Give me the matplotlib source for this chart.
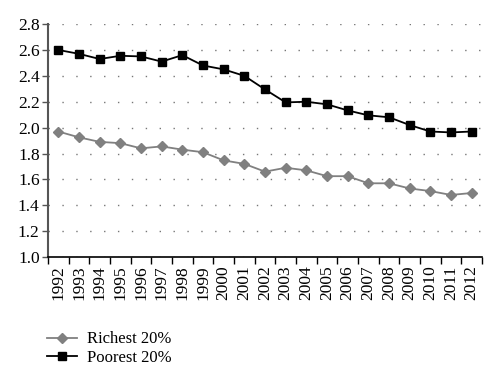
import matplotlib
matplotlib.use("Agg")
import matplotlib.pyplot as plt
import numpy as np

years = [str(y) for y in range(1992, 2013)]
richest = [1.97, 1.925, 1.89, 1.88, 1.84, 1.855, 1.83, 1.81, 1.747, 1.72, 1.66,
           1.69, 1.67, 1.625, 1.625, 1.57, 1.57, 1.53, 1.51, 1.48, 1.495]
poorest = [2.60, 2.57, 2.53, 2.555, 2.55, 2.51, 2.56, 2.48, 2.45, 2.40, 2.295,
           2.195, 2.20, 2.18, 2.133, 2.095, 2.08, 2.02, 1.97, 1.963, 1.97]
yticks = [1.0, 1.2, 1.4, 1.6, 1.8, 2.0, 2.2, 2.4, 2.6, 2.8]

plt.rcParams['font.family'] = ['Liberation Serif', 'DejaVu Serif']

fig = plt.figure(figsize=(5, 3.82), dpi=100)
ax = fig.add_axes([0.096, 0.327, 0.868, 0.61])

x = np.arange(len(years))
ax.plot(x, richest, color='#808080', marker='D', markersize=5, lw=1.3,
        label='Richest 20%')
ax.plot(x, poorest, color='black', marker='s', markersize=6, lw=1.3,
        label='Poorest 20%')

ax.set_xlim(-0.5, len(years) - 0.5)
ax.set_ylim(1.0, 2.8)
ax.set_yticks(yticks)
ax.set_yticklabels([f'{v:.1f}' for v in yticks], fontsize=12.5)
ax.set_xticks(x)
ax.set_xticklabels(years, rotation=90, fontsize=12.5)
ax.set_xticks(np.arange(-0.5, len(years)), minor=True)
ax.tick_params(axis='x', which='major', length=0, pad=6)
ax.tick_params(axis='x', which='minor', length=5, direction='out', width=1)
ax.tick_params(axis='y', length=4, direction='out', width=1, color='#555555', pad=2)

ax.yaxis.grid(True, linestyle=(0, (1, 9)), color='#777777', lw=1)
ax.set_axisbelow(True)
for s in ['top', 'right']:
    ax.spines[s].set_visible(False)
ax.spines['left'].set_color('#555555')
ax.spines['left'].set_linewidth(1.5)
ax.spines['bottom'].set_linewidth(1.2)

fig.legend(loc='upper left', bbox_to_anchor=(0.08, 0.15), frameon=False,
           fontsize=12, handlelength=1.8, handletextpad=0.6, labelspacing=0.15,
           borderaxespad=0)

fig.savefig('out.png', dpi=100)
